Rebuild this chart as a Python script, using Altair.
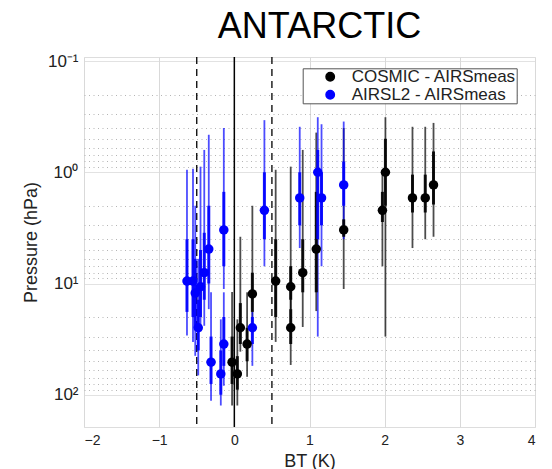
import altair as alt
import pandas as pd

# ---- data ----
series_names = ["COSMIC - AIRSmeas", "AIRSL2 - AIRSmeas"]
series_colors = ["#000000", "#0000ff"]

cosmic_bt = [-0.03, 0.04, 0.08, 0.17, 0.24, 0.55, 0.75, 0.75, 0.91, 1.09, 1.455, 1.97, 2.01, 2.37, 2.54, 2.65]
cosmic_p = [51, 65, 25, 35, 12.4, 9.5, 10.7, 25, 8.0, 4.9, 3.3, 2.2, 1.0, 1.7, 1.7, 1.3]
cosmic_outer_lo = [11.9, 21, 3.8, 12, 2.0, 0.95, 0.89, 7.0, 0.63, 0.44, 0.40, 1.0, 0.32, 0.39, 0.39, 0.36]
cosmic_outer_hi = [125, 125, 41, 69, 27, 33.5, 17, 54, 24.6, 17.7, 11.2, 7.0, 30, 4.8, 4.0, 3.8]
cosmic_inner_lo = [30, 45, 15, 25, 8, 4, 7, 17, 4, 1.5, 2.65, 1.5, 0.5, 1.05, 1.05, 0.65]
cosmic_inner_hi = [80, 90, 35, 50, 18, 20, 14, 35, 12, 12, 3.8, 2.8, 2.0, 2.3, 2.3, 1.95]

airs_bt = [-0.63, -0.55, -0.52, -0.45, -0.48, -0.40, -0.34, -0.31, -0.18, -0.14, -0.14, 0.24, 0.40, 0.87, 1.11, 1.16, 1.455]
airs_p = [9.5, 9.5, 12.2, 10.7, 25, 8.0, 4.9, 51, 65, 3.3, 35, 25, 2.2, 1.7, 1.0, 1.7, 1.3]
airs_outer_lo = [0.95, 0.93, 2.0, 0.89, 6.0, 0.63, 0.46, 12, 21, 0.40, 12, 18, 0.34, 0.39, 0.32, 0.37, 0.35]
airs_outer_hi = [29.4, 33.5, 44.7, 27, 67, 24, 17, 113, 125, 11.2, 83, 55, 7.0, 4.8, 30, 7.0, 4.0]
airs_inner_lo = [4, 4, 6, 5, 14, 3.5, 2, 30, 40, 1.5, 20, 20, 1.0, 1.0, 0.63, 1.0, 0.8]
airs_inner_hi = [18, 20, 25, 20, 40, 14, 10, 80, 100, 7, 55, 35, 4.0, 3.0, 4.0, 3.0, 2.0]

x_ticks = [-2, -1, 0, 1, 2, 3, 4]
y_major = [0.1, 1, 10, 100]
y_minor = [0.2, 0.3, 0.4, 0.5, 0.6, 0.7, 0.8, 0.9,
           2, 3, 4, 5, 6, 7, 8, 9,
           20, 30, 40, 50, 60, 70, 80, 90]
solid_ref = [0.0]
dashed_ref = [-0.5, 0.5]

# ---- tables ----
rows = []
for name, bts, ps, olo, ohi, ilo, ihi in [
    (series_names[0], cosmic_bt, cosmic_p, cosmic_outer_lo, cosmic_outer_hi, cosmic_inner_lo, cosmic_inner_hi),
    (series_names[1], airs_bt, airs_p, airs_outer_lo, airs_outer_hi, airs_inner_lo, airs_inner_hi),
]:
    for i in range(len(bts)):
        rows.append(dict(series=name, bt=bts[i], p=ps[i], olo=olo[i], ohi=ohi[i], ilo=ilo[i], ihi=ihi[i]))
df = pd.DataFrame(rows)
ref_solid = pd.DataFrame({"bt": solid_ref})
ref_dashed = pd.DataFrame({"bt": dashed_ref})

FONT = "Liberation Sans"

x_scale = alt.Scale(domain=[-2, 4], nice=False, zero=False)
y_scale = alt.Scale(type="log", domain=[0.092, 195], nice=False, reverse=True)

major_test = "indexof([0.1, 1, 10, 100], datum.value) >= 0"

x_axis = alt.Axis(values=x_ticks, grid=True, gridColor="#d9d9d9", gridWidth=1,
                  domain=False, ticks=False, labelFontSize=14, labelPadding=6,
                  labelFont=FONT, labelColor="#222222",
                  title="BT (K)", titleFont=FONT, titleFontSize=18, titleFontWeight="normal",
                  titleColor="#222222", titleY=39, titleBaseline="alphabetic")
y_axis = alt.Axis(values=y_major + y_minor, grid=True,
                  gridColor={"condition": {"test": major_test, "value": "#d9d9d9"}, "value": "#b5b5b5"},
                  gridDash={"condition": {"test": major_test, "value": [1, 0]}, "value": [1, 3.5]},
                  domain=False, ticks=False, labelOverlap=False,
                  labelExpr="datum.value == 0.1 ? '10\u207b\u00b9' : datum.value == 1 ? '10\u2070' : datum.value == 10 ? '10\u00b9' : datum.value == 100 ? '10\u00b2' : ''",
                  labelFontSize=17, labelPadding=6, labelFont=FONT, labelColor="#222222",
                  title="Pressure (hPa)", titleFont=FONT, titleFontSize=18, titleFontWeight="normal",
                  titleColor="#222222", titleX=-48, titleY=185, titleBaseline="alphabetic")

legend = alt.Legend(title=None, orient="none", legendX=218.7, legendY=11.3,
                    fillColor="white", strokeColor="#555555",
                    padding=0, rowPadding=0, symbolType="circle", symbolOpacity=1,
                    symbolSize=70, symbolOffset=19, labelOffset=13, labelLimit=400,
                    labelFont=FONT, labelFontSize=17, labelColor="#222222",
                    labelExpr="datum.label + '\u00a0'")
color_enc = alt.Color("series:N", scale=alt.Scale(domain=series_names, range=series_colors), legend=legend)

ref1 = alt.Chart(ref_solid).mark_rule(color="black", strokeWidth=1.5).encode(
    x=alt.X("bt:Q", scale=x_scale, axis=x_axis))
ref2 = alt.Chart(ref_dashed).mark_rule(color="black", strokeWidth=1.3, strokeDash=[7, 5]).encode(
    x=alt.X("bt:Q", scale=x_scale, axis=x_axis))

outer = alt.Chart(df).mark_rule(strokeWidth=1.8, opacity=0.7).encode(
    x=alt.X("bt:Q", scale=x_scale, axis=x_axis),
    y=alt.Y("olo:Q", scale=y_scale, axis=y_axis),
    y2="ohi:Q",
    color=color_enc)
inner = alt.Chart(df).mark_rule(strokeWidth=3.0, opacity=0.9).encode(
    x=alt.X("bt:Q", scale=x_scale, axis=x_axis),
    y=alt.Y("ilo:Q", scale=y_scale, axis=y_axis),
    y2="ihi:Q",
    color=color_enc)
points = alt.Chart(df).mark_circle(size=90, opacity=1).encode(
    x=alt.X("bt:Q", scale=x_scale, axis=x_axis),
    y=alt.Y("p:Q", scale=y_scale, axis=y_axis),
    color=color_enc)

chart = alt.layer(ref1, ref2, outer, inner, points).properties(
    width=451, height=370,
    title=alt.TitleParams("ANTARCTIC", font=FONT, fontSize=36, fontWeight="normal",
                          anchor="middle", offset=6, color="black", dx=10),
    autosize=alt.AutoSizeParams(type="none"),
    padding={"left": 84, "top": 57, "right": 17, "bottom": 42},
).configure_view(stroke="#7f7f7f", strokeWidth=2).configure_legend(strokeWidth=1.5).configure(background="white")

chart.save("out.html", embed_options={"renderer": "svg", "actions": False})
